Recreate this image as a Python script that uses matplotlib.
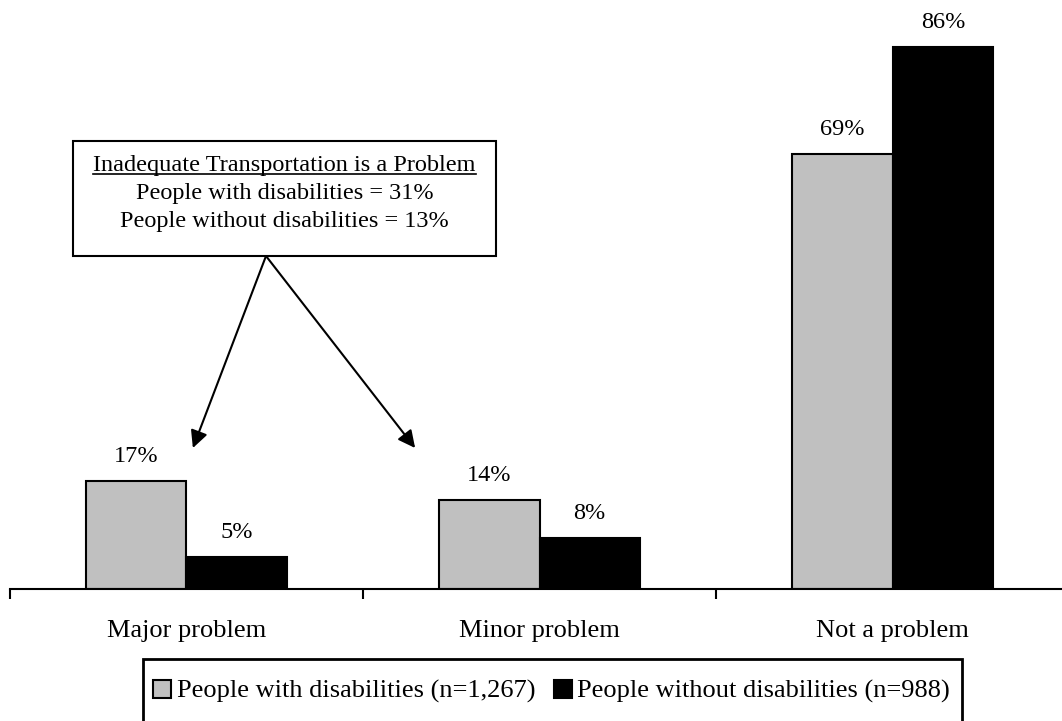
import matplotlib
matplotlib.use("Agg")
import matplotlib.pyplot as plt
from matplotlib.patches import Rectangle, Patch
from matplotlib.lines import Line2D

plt.rcParams['font.family'] = ['Liberation Serif', 'DejaVu Serif']

categories = ["Major problem", "Minor problem", "Not a problem"]
with_disab = [17, 14, 69]
without_disab = [5, 8, 86]
series_names = ["People with disabilities (n=1,267)",
                "People without disabilities (n=988)"]
note_title = "Inadequate Transportation is a Problem"
note_lines = ["People with disabilities = 31%",
              "People without disabilities = 13%"]

W, H = 1062, 721
fig = plt.figure(figsize=(W / 100, H / 100), dpi=100)
ax = fig.add_axes([9.5 / W, 1 - 588.5 / H, 1060 / W, 567 / H])

bw = 0.284
xs = list(range(len(categories)))
gray_bars = ax.bar([x - bw / 2 for x in xs], with_disab, width=bw,
                   color="#C0C0C0", edgecolor="black", linewidth=1.5)
black_bars = ax.bar([x + bw / 2 for x in xs], without_disab, width=bw,
                    color="black", edgecolor="black", linewidth=1.5)

for bars, vals in ((gray_bars, with_disab), (black_bars, without_disab)):
    for b, v in zip(bars, vals):
        ax.annotate(f"{v}%", (b.get_x() + b.get_width() / 2, v),
                    xytext=(0, 13.7), textcoords="offset points",
                    ha="center", va="baseline", fontsize=17.5)

ax.set_xlim(-0.5, 2.5)
ax.set_ylim(0, 90)
for s in ("left", "right", "top"):
    ax.spines[s].set_visible(False)
ax.spines["bottom"].set_linewidth(1.5)
ax.set_yticks([])
ax.set_xticks([-0.5, 0.5, 1.5, 2.5])
ax.set_xticklabels([])
ax.tick_params(axis="x", which="major", direction="out", length=7.5, width=1.5)
ax.set_xticks(xs, minor=True)
ax.set_xticklabels(categories, minor=True, fontsize=19)
ax.tick_params(axis="x", which="minor", length=0, pad=22.5)

# callout box
fig.patches.append(Rectangle((73, H - 256), 423, 115, transform=None,
                             facecolor="white", edgecolor="black",
                             linewidth=1.5, figure=fig))
cx = 284.5
title_txt = fig.text(cx / W, 1 - 166 / H, note_title, ha="center", va="center",
                     fontsize=17.5)
fig.text(cx / W, 1 - 194 / H, note_lines[0], ha="center", va="center", fontsize=17.5)
fig.text(cx / W, 1 - 222 / H, note_lines[1], ha="center", va="center", fontsize=17.5)

for tip in ((0.019, 22.3), (0.648, 22.3)):
    ax.annotate("", xy=tip, xycoords="data",
                xytext=(266, H - 256), textcoords="figure pixels",
                arrowprops=dict(arrowstyle="-|>", color="black", lw=1.5,
                                mutation_scale=26, shrinkA=0, shrinkB=0))

# legend frame (runs off the bottom edge) and entries
fig.patches.append(Rectangle((143, -10), 819, H - 659 + 10, transform=None,
                             facecolor="white", edgecolor="black",
                             linewidth=2, figure=fig))
handles = [Patch(facecolor="#C0C0C0", edgecolor="black", linewidth=1.5),
           Patch(facecolor="black", edgecolor="black", linewidth=1.5)]
leg = fig.legend(handles, series_names, loc="center left",
                 bbox_to_anchor=(153 / W, 1 - 691.5 / H), ncol=2,
                 fontsize=19, frameon=False,
                 handlelength=0.7, handleheight=0.7, handletextpad=0.2,
                 columnspacing=0.7, borderpad=0, borderaxespad=0)

# underline the callout title
fig.canvas.draw()
bb = title_txt.get_window_extent()
uy = bb.y0 + 3
fig.lines.append(Line2D([bb.x0, bb.x1], [uy, uy], transform=None,
                        color="black", linewidth=1.2, figure=fig))

fig.savefig("out.png", dpi=100)
